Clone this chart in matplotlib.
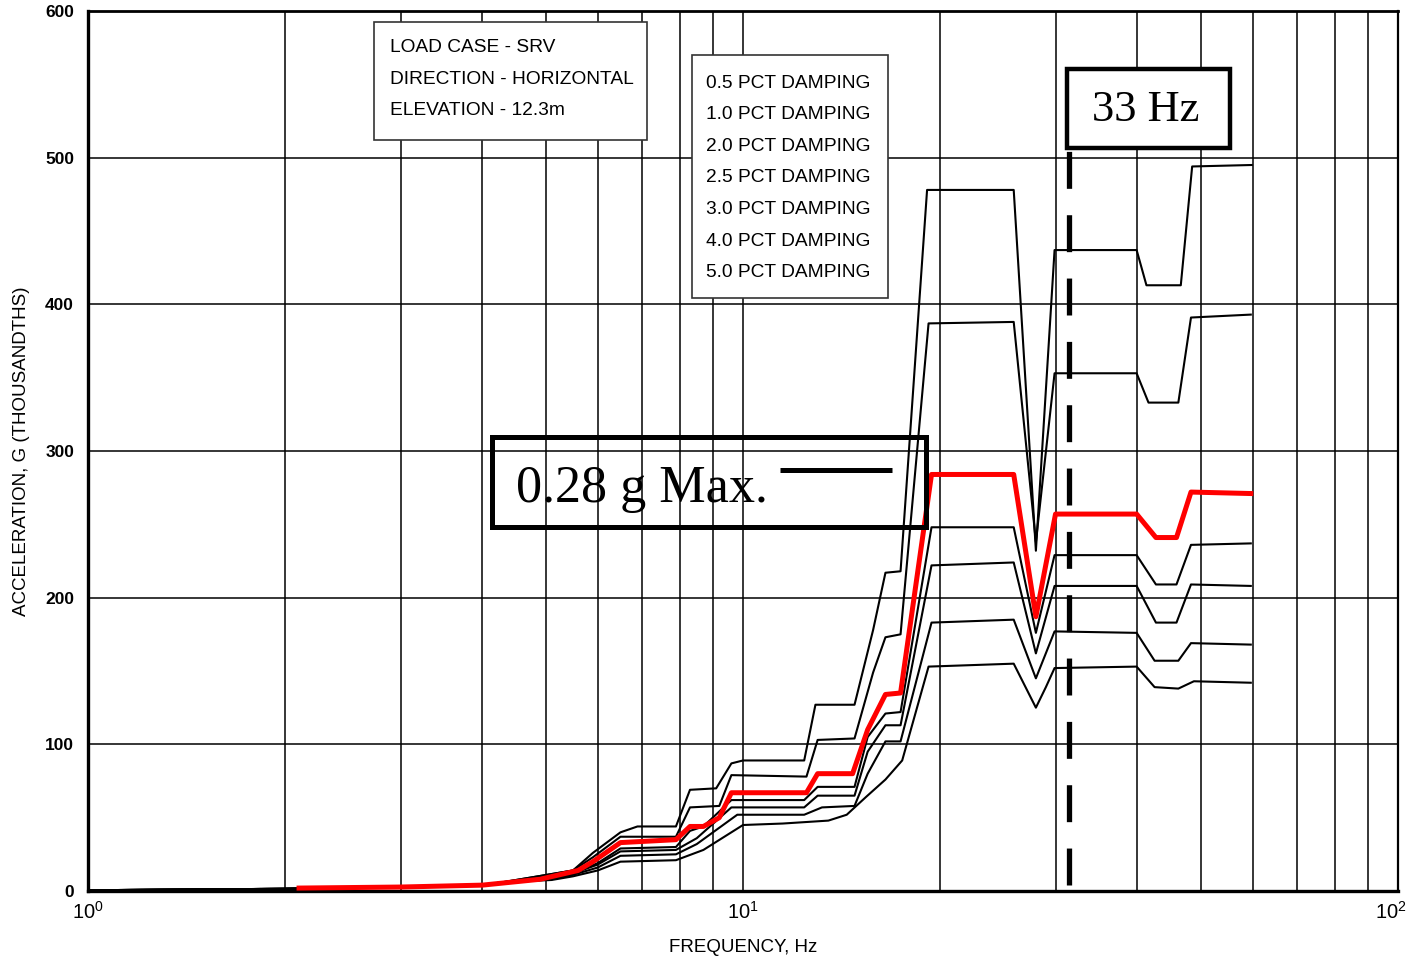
import matplotlib
matplotlib.use("Agg")
import matplotlib.pyplot as plt
import matplotlib.transforms as mtransforms
from matplotlib import font_manager
from matplotlib.patches import Rectangle
from matplotlib.ticker import FixedLocator, FixedFormatter

# spectra: frequency (Hz) vs acceleration (thousandths of g)
f_05 = [1.0, 2.0, 3.0, 4.0, 4.3, 5.5, 5.9, 6.5, 6.9, 7.9, 8.3, 9.1, 9.6, 10.0, 12.4, 12.9,
        14.8, 15.8, 16.5, 17.4, 19.1, 25.9, 28.0, 29.9, 39.9, 41.3, 46.6, 48.5, 59.8]
a_05 = [0.5, 1.5, 2.7, 4, 6, 14, 26, 40, 44, 44, 69, 70, 87, 89, 89, 127,
        127, 178, 217, 218, 478, 478, 232, 437, 437, 413, 413, 494, 495]

f_10 = [1.0, 2.0, 3.0, 4.0, 4.3, 5.5, 5.9, 6.5, 7.9, 8.3, 9.2, 9.6, 12.5, 13.0, 14.8,
        15.8, 16.5, 17.4, 19.2, 25.9, 28.0, 29.9, 39.9, 41.6, 46.2, 48.3, 59.6]
a_10 = [0.5, 1.5, 2.7, 4, 6, 14, 23, 37, 37, 57, 58, 79, 78, 103, 104,
        149, 173, 175, 387, 388, 238, 353, 353, 333, 333, 391, 393]

f_20 = [2.1, 3.0, 4.0, 4.9, 5.6, 5.9, 6.5, 7.9, 8.3, 8.7, 9.2, 9.6, 12.5, 13.0, 14.7,
        15.5, 16.5, 17.4, 19.4, 25.9, 28.0, 30.0, 39.9, 42.7, 45.9, 48.3, 59.6]
a_20 = [2, 2.7, 4, 8, 14, 20, 33, 35, 44, 44, 50, 67, 67, 80, 80,
        110, 134, 135, 284, 284, 187, 257, 257, 241, 241, 272, 271]

f_25 = [1.0, 2.0, 3.0, 4.0, 4.3, 5.1, 5.5, 6.0, 6.5, 7.9, 8.3, 8.7, 9.6, 12.4, 13.0, 14.8,
        15.5, 16.5, 17.4, 19.4, 25.9, 28.0, 29.9, 39.9, 42.7, 45.9, 48.3, 59.6]
a_25 = [0.5, 1.5, 2.7, 4, 6, 8, 12, 19, 29, 30, 41, 44, 62, 62, 71, 71,
        105, 121, 122, 248, 248, 176, 229, 229, 209, 209, 236, 237]

f_30 = [1.0, 2.0, 3.0, 4.0, 4.3, 5.1, 5.5, 6.0, 6.5, 7.9, 8.5, 9.6, 12.4, 13.0, 14.8,
        15.5, 16.5, 17.4, 19.4, 25.9, 28.0, 29.9, 39.9, 42.7, 45.9, 48.3, 59.6]
a_30 = [0.5, 1.5, 2.7, 4, 6, 8, 12, 18, 27, 28, 36, 57, 57, 65, 65,
        95, 113, 113, 222, 224, 162, 208, 208, 183, 183, 209, 208]

f_40 = [1.0, 2.0, 3.0, 4.0, 4.3, 5.1, 5.5, 6.0, 6.5, 7.9, 8.5, 9.8, 12.4, 13.2, 14.8,
        15.5, 16.5, 17.4, 19.4, 25.9, 28.0, 29.9, 39.9, 42.5, 46.2, 48.3, 59.6]
a_40 = [0.5, 1.5, 2.7, 4, 6, 8, 11, 16, 24, 25, 32, 52, 52, 57, 58,
        80, 102, 102, 183, 185, 145, 177, 176, 157, 157, 169, 168]

f_50 = [1.0, 2.0, 3.0, 4.0, 4.3, 5.1, 5.5, 6.0, 6.5, 7.9, 8.7, 10.0, 11.5, 13.5, 14.4,
        15.4, 16.5, 17.5, 19.2, 25.9, 28.0, 29.0, 29.9, 39.9, 42.5, 46.2, 48.8, 59.6]
a_50 = [0.5, 1.5, 2.7, 4, 6, 7.5, 10, 14, 20, 21, 28, 45, 46, 48, 52,
        64, 76, 89, 153, 155, 125, 139, 152, 153, 139, 138, 143, 142]

cutoff_hz = 31.5
cutoff_span = (4, 505)

case_lines = ["LOAD CASE - SRV", "DIRECTION - HORIZONTAL", "ELEVATION - 12.3m"]
damping_lines = ["0.5 PCT DAMPING", "1.0 PCT DAMPING", "2.0 PCT DAMPING", "2.5 PCT DAMPING",
                 "3.0 PCT DAMPING", "4.0 PCT DAMPING", "5.0 PCT DAMPING"]
yticks = [0, 100, 200, 300, 400, 500, 600]
xticks = [1, 10, 100]
xticklabels = [r"$\mathregular{10^0}$", r"$\mathregular{10^1}$", r"$\mathregular{10^2}$"]

names = {f.name for f in font_manager.fontManager.ttflist}
if "Liberation Sans Narrow" in names:
    narrow, narrow_size = "Liberation Sans Narrow", 15.5
else:
    narrow, narrow_size = "Liberation Sans", 13.5
sans = "Liberation Sans"
serif = "Liberation Serif"

fig = plt.figure(figsize=(14.12, 9.57), dpi=100)
ax = fig.add_axes([88 / 1412, 1 - 891 / 957, 1310 / 1412, 880 / 957])
ax.set_xscale("log")
ax.set_xlim(1, 100)
ax.set_ylim(0, 600)

ax.grid(True, which="both", axis="x", color="black", lw=1.1, zorder=0)
ax.grid(True, which="major", axis="y", color="black", lw=1.1, zorder=0)
ax.set_axisbelow(True)
ax.tick_params(which="both", length=0)
ax.yaxis.set_major_locator(FixedLocator(yticks))
ax.set_yticklabels([str(v) for v in yticks], fontfamily=sans, fontsize=12.5,
                   fontweight="bold")
ax.xaxis.set_major_locator(FixedLocator(xticks))
ax.xaxis.set_major_formatter(FixedFormatter(xticklabels))
ax.tick_params(axis="y", pad=10)
ax.tick_params(axis="x", pad=7)
for side, w in [("left", 2.4), ("bottom", 2.4), ("top", 2.0), ("right", 1.6)]:
    ax.spines[side].set_linewidth(w)

ax.set_xlabel("FREQUENCY, Hz", fontfamily=narrow, fontsize=narrow_size, labelpad=12)
ax.set_ylabel("ACCELERATION, G (THOUSANDTHS)", fontfamily=narrow, fontsize=narrow_size,
              labelpad=11)

for f, a in [(f_05, a_05), (f_10, a_10), (f_25, a_25), (f_30, a_30), (f_40, a_40), (f_50, a_50)]:
    ax.plot(f, a, color="black", lw=1.5, zorder=3)
ax.plot(f_20, a_20, color="#ff0000", lw=3.6, zorder=4)

ax.plot([cutoff_hz, cutoff_hz], cutoff_span, color="black", lw=3.8,
        linestyle=(0, (7, 5)), zorder=5)

# annotation boxes (axes fraction)
ax.add_patch(Rectangle((0.2183, 0.8534), 0.2084, 0.1341, transform=ax.transAxes,
                       facecolor="white", edgecolor="#333333", lw=1.2, zorder=6))
for i, s in enumerate(case_lines):
    ax.text(0.2305, 0.958 - i * 0.0358, s, transform=ax.transAxes, fontfamily=sans,
            fontsize=13.8, va="center", ha="left", zorder=7)

ax.add_patch(Rectangle((0.4611, 0.6739), 0.1496, 0.2761, transform=ax.transAxes,
                       facecolor="white", edgecolor="#333333", lw=1.2, zorder=6))
for i, s in enumerate(damping_lines):
    ax.text(0.4718, 0.918 - i * 0.0359, s, transform=ax.transAxes, fontfamily=sans,
            fontsize=13.8, va="center", ha="left", zorder=7)

ax.add_patch(Rectangle((0.7473, 0.8443), 0.1245, 0.0897, transform=ax.transAxes,
                       facecolor="white", edgecolor="black", lw=3.2, zorder=6))
ax.text(0.7664, 0.8875, "33 Hz", transform=ax.transAxes, fontfamily=serif,
        fontsize=32, va="center", ha="left", zorder=7)

ax.add_patch(Rectangle((0.3084, 0.4136), 0.3313, 0.1023, transform=ax.transAxes,
                       facecolor="none", edgecolor="black", lw=3.6, zorder=6))
ax.text(0.3267, 0.457, "0.28 g Max.", transform=ax.transAxes, fontfamily=serif,
        fontsize=37.5, va="center", ha="left", zorder=7)
ax.plot([0.5282, 0.6137], [0.4784, 0.4784], transform=ax.transAxes, color="black",
        lw=3.6, solid_capstyle="butt", zorder=7)

fig.canvas.draw()
xlabs = ax.get_xticklabels()
for lab in xlabs:
    lab.set_fontfamily(sans)
    lab.set_fontsize(14.5)
# keep the last decade label inside the canvas
xlabs[-1].set_transform(xlabs[-1].get_transform() +
                        mtransforms.ScaledTranslation(-5 / 72, 0, fig.dpi_scale_trans))

fig.savefig("out.png", dpi=100)
